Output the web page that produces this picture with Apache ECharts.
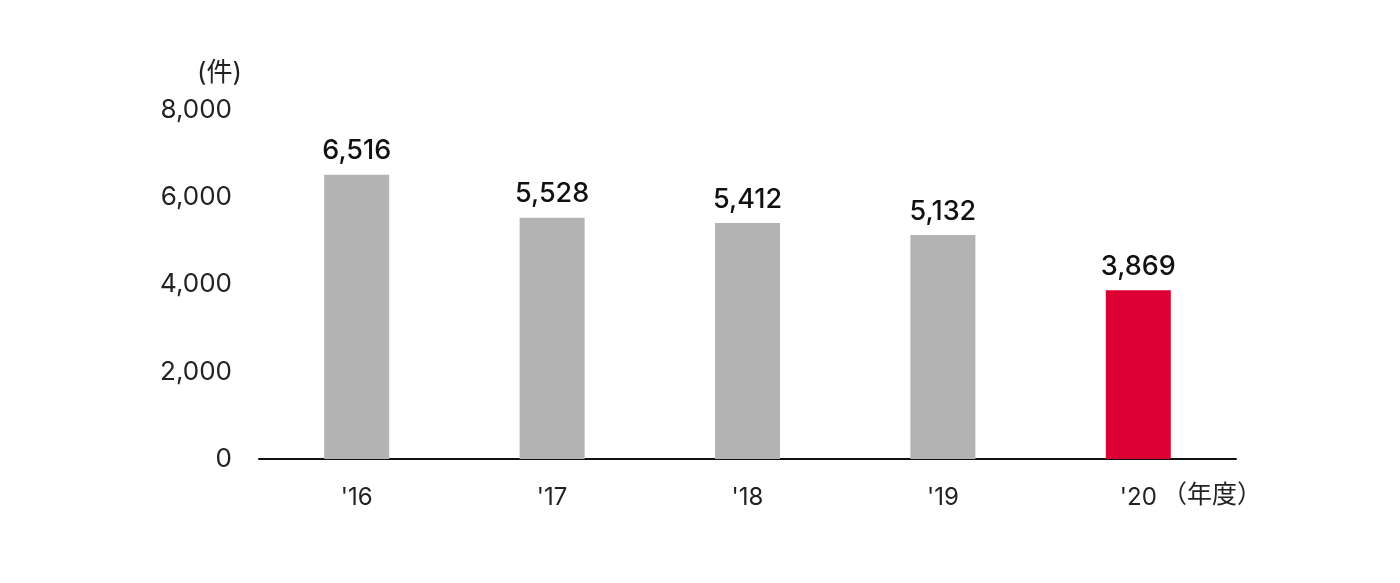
<!DOCTYPE html>
<html><head><meta charset="utf-8">
<script src="https://cdn.jsdelivr.net/npm/echarts@6/dist/echarts.min.js"></script>
<style>html,body{margin:0;padding:0;background:#fff}#c{width:1400px;height:583px}</style>
</head><body><div id="c"></div>
<script>
const categories = ["'16", "'17", "'18", "'19", "'20"];
const values = [6516, 5528, 5412, 5132, 3869];
const yTicks = [0, 2000, 4000, 6000, 8000];
const unitY = "(件)";
const unitX = "（年度）";
const FONT = "Inter, 'Noto Sans CJK JP', sans-serif";
const chart = echarts.init(document.getElementById('c'));
chart.setOption({
  animation: false,
  grid: {left: 259, right: 164, top: 110, bottom: 124},
  xAxis: {
    type: 'category', data: categories,
    axisLine: {lineStyle: {color: '#111', width: 2}},
    axisTick: {show: false},
    axisLabel: {margin: 27, fontSize: 24, color: '#222', fontFamily: FONT}
  },
  yAxis: {
    type: 'value', min: 0, max: 8000, interval: 2000,
    splitLine: {show: false}, axisLine: {show: false}, axisTick: {show: false},
    axisLabel: {margin: 27, fontSize: 26, color: '#222', fontFamily: FONT,
      formatter: v => v.toLocaleString('en-US')}
  },
  series: [{
    type: 'bar', barWidth: 65,
    data: values.map((v, i) => ({value: v, itemStyle: {color: i === values.length - 1 ? '#dc0032' : '#b3b3b3'}})),
    label: {show: true, position: 'top', distance: 10, fontSize: 27, fontWeight: 500, color: '#111', fontFamily: FONT,
      formatter: p => p.value.toLocaleString('en-US')}
  }],
  graphic: [
    {type: 'text', left: 197, top: 60, style: {text: unitY, fill: '#222', font: '26px ' + FONT}},
    {type: 'text', left: 1162, top: 483, style: {text: unitX, fill: '#222', font: '25px ' + FONT}}
  ]
});
</script></body></html>
